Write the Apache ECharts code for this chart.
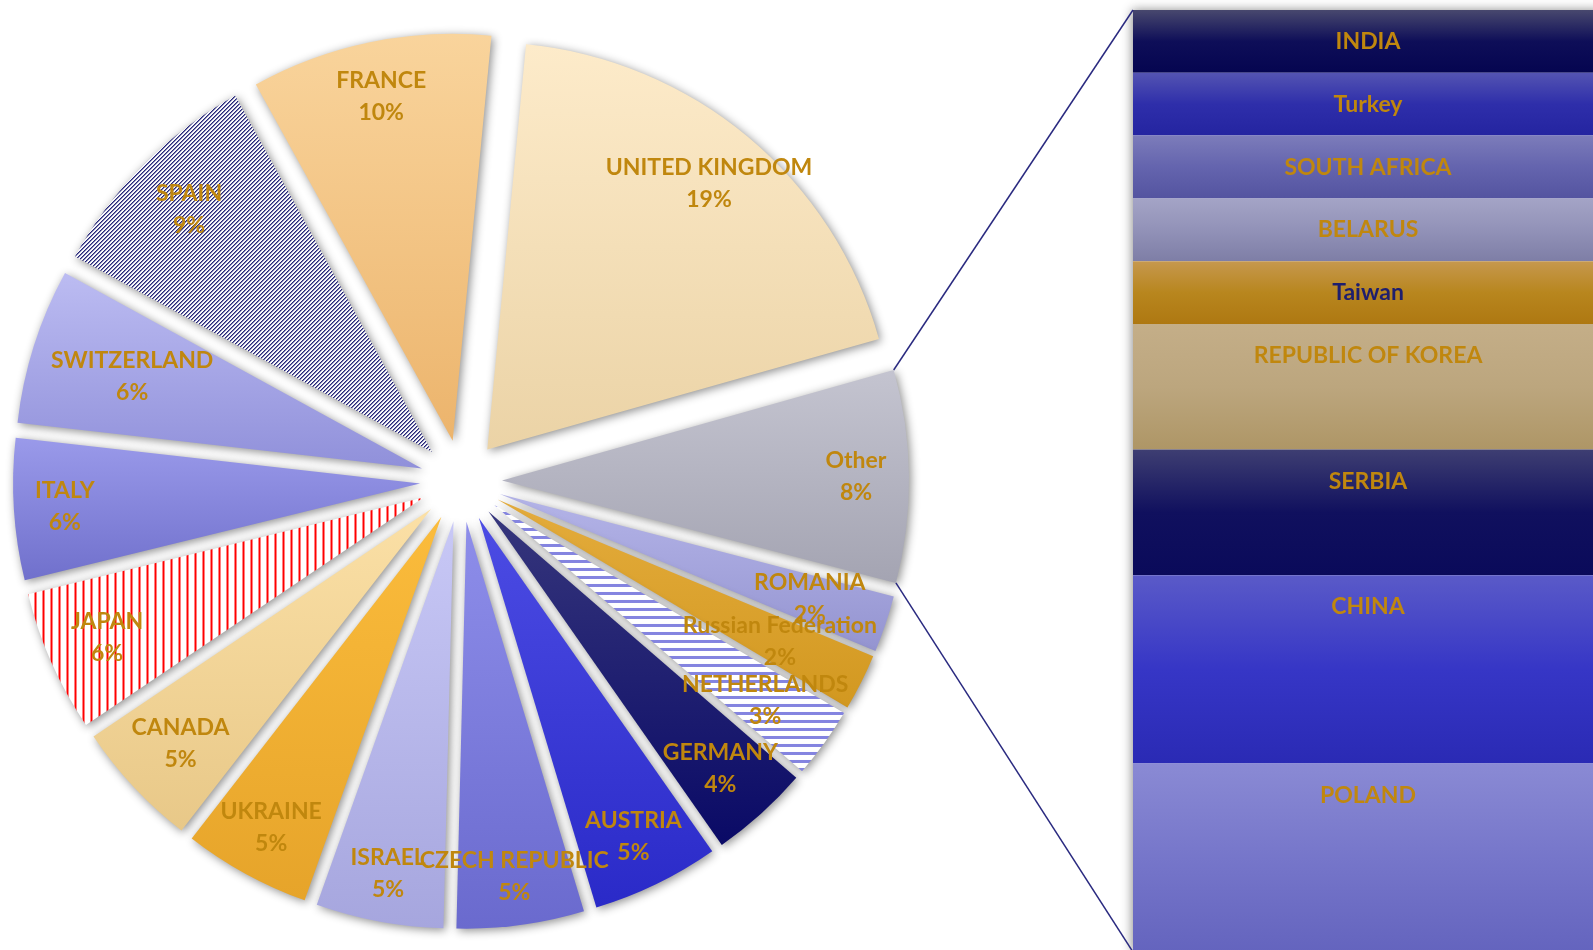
<!DOCTYPE html>
<html>
<head>
<meta charset="utf-8">
<title>Pie of bar</title>
<script src="https://cdn.jsdelivr.net/npm/echarts@6/dist/echarts.min.js"></script>
<style>
  html, body { margin: 0; padding: 0; background: #fff; }
  #chart { width: 1593px; height: 950px; }
</style>
</head>
<body>
<div id="chart"></div>
<script>
// pie slices, clockwise starting with "Other" at 3 o'clock
const pieNames = ['Other', 'ROMANIA', 'Russian Federation', 'NETHERLANDS', 'GERMANY', 'AUSTRIA',
  'CZECH REPUBLIC', 'ISRAEL', 'UKRAINE', 'CANADA', 'JAPAN', 'ITALY', 'SWITZERLAND', 'SPAIN',
  'FRANCE', 'UNITED KINGDOM'];
const pieValues = [15, 4, 4, 5, 7, 9, 9, 9, 9, 9, 10, 10, 11, 16, 17, 34];

// what "Other" is made of, top to bottom
const barNames = ['INDIA', 'Turkey', 'SOUTH AFRICA', 'BELARUS', 'Taiwan', 'REPUBLIC OF KOREA',
  'SERBIA', 'CHINA', 'POLAND'];
const barValues = [1, 1, 1, 1, 1, 2, 2, 3, 3];

// layout
const CX = 461, CY = 481, R = 407, EXPLODE = 41;
const ROT = 0.6; // "Other" sits a little above the horizontal
const BAR_LEFT = 1133, BAR_TOP = 10, BAR_W = 470, BAR_H = 942;
const FONT = 'Lato';
const GOLD = '#C0870E';

// distance of each slice label from the pie centre (Excel "best fit" varies per slice)
const labelRadius = {
  'Other': 392, 'ROMANIA': 365, 'Russian Federation': 354, 'NETHERLANDS': 372, 'GERMANY': 384,
  'AUSTRIA': 392, 'CZECH REPUBLIC': 396, 'ISRAEL': 396, 'UKRAINE': 392, 'CANADA': 381,
  'JAPAN': 384, 'ITALY': 394, 'SWITZERLAND': 342, 'SPAIN': 381, 'FRANCE': 390,
  'UNITED KINGDOM': 384
};

const grad = (...stops) => ({
  type: 'linear', x: 0, y: 0, x2: 0, y2: 1,
  colorStops: stops.map((c, i) => ({ offset: i / (stops.length - 1), color: c }))
});

// small canvas tiles for the hatched slices
const tile = (w, h, draw) => {
  const c = document.createElement('canvas');
  c.width = w; c.height = h;
  const ctx = c.getContext('2d');
  ctx.fillStyle = '#fff';
  ctx.fillRect(0, 0, w, h);
  draw(ctx);
  return { image: c, repeat: 'repeat' };
};
const diagFill = tile(4, 4, ctx => {
  for (let x = 0; x < 4; x++) for (let y = 0; y < 4; y++) {
    const k = (x + y) % 4;
    if (k === 0) { ctx.fillStyle = '#16166E'; ctx.fillRect(x, y, 1, 1); }
    if (k === 1) { ctx.fillStyle = '#7E7EB0'; ctx.fillRect(x, y, 1, 1); }
  }
});
const vlineFill = tile(8, 4, ctx => { ctx.fillStyle = '#FF0000'; ctx.fillRect(0, 0, 2, 4); });
const hlineFill = tile(4, 8, ctx => { ctx.fillStyle = '#8484E0'; ctx.fillRect(0, 0, 4, 3); });

const sliceColors = {
  'Other': grad('#C4C4D0', '#A4A4B2'),
  'ROMANIA': grad('#B4B4E8', '#9494D0'),
  'Russian Federation': grad('#E4AC3C', '#D29820'),
  'NETHERLANDS': hlineFill,
  'GERMANY': grad('#36367C', '#0A0A66'),
  'AUSTRIA': grad('#4C4CE4', '#2A2AC8'),
  'CZECH REPUBLIC': grad('#8E8EEA', '#6A6ACE'),
  'ISRAEL': grad('#C8C8F6', '#A6A6DE'),
  'UKRAINE': grad('#FBBC3C', '#E6A42A'),
  'CANADA': grad('#FBE0A6', '#E8C888'),
  'JAPAN': vlineFill,
  'ITALY': grad('#9A9AEA', '#7070CC'),
  'SWITZERLAND': grad('#BCBCF2', '#9090DA'),
  'SPAIN': diagFill,
  'FRANCE': grad('#F9D49C', '#ECB46C'),
  'UNITED KINGDOM': grad('#FDEBCA', '#EBD3A6')
};

const barColors = {
  'INDIA': grad('#48486E', '#0E0E58', '#050550'),
  'Turkey': grad('#5454B2', '#2E2EAA', '#2424A0'),
  'SOUTH AFRICA': grad('#7C7CBA', '#6464AE', '#5454A0'),
  'BELARUS': grad('#A4A4C6', '#9292B8', '#7E7EA6'),
  'Taiwan': grad('#C6984E', '#B8861E', '#AE7812'),
  'REPUBLIC OF KOREA': grad('#C4AE88', '#BCA67E', '#AE9666'),
  'SERBIA': grad('#3E3E72', '#10105E', '#0A0A5A'),
  'CHINA': grad('#5A5AC8', '#3636C6', '#2A2AB4'),
  'POLAND': grad('#8A8AD4', '#7676CA', '#6464BE')
};

const pieTotal = pieValues.reduce((a, b) => a + b, 0);
const barTotal = barValues.reduce((a, b) => a + b, 0);
const halfOther = pieValues[0] / pieTotal * 360 / 2;
const startAngle = halfOther + ROT;

const pieData = pieNames.map((n, i) => ({
  name: n, value: pieValues[i], selected: true,
  itemStyle: { color: sliceColors[n] }
}));

const chart = echarts.init(document.getElementById('chart'));

const barSeries = barNames.map((n, i) => ({
  type: 'bar',
  name: n,
  stack: 'other',
  barWidth: '100%',
  barGap: '-100%',
  z: 3,
  data: [barValues[i]],
  itemStyle: { color: barColors[n] },
  label: {
    show: true,
    position: 'insideTop',
    distance: 20,
    formatter: n,
    fontFamily: FONT,
    fontWeight: 'bold',
    fontSize: 23,
    lineHeight: 23,
    color: n === 'Taiwan' ? '#1E1E6E' : GOLD
  },
  emphasis: { disabled: true },
  silent: true
}));

// one transparent ring per slice label, so each label sits at its own radius
const labelSeries = pieNames.map((name, k) => {
  const lr = labelRadius[name];
  return {
    type: 'pie',
    center: [CX, CY],
    radius: [lr - 20, lr + 20],
    startAngle: startAngle,
    clockwise: true,
    avoidLabelOverlap: false,
    labelLayout: { hideOverlap: false },
    z: 5,
    data: pieNames.map((n, i) => ({ name: n, value: pieValues[i], label: { show: i === k } })),
    itemStyle: { color: 'rgba(0,0,0,0)' },
    label: {
      position: 'inside',
      overflow: 'none',
      formatter: p => p.name + '\n' + Math.round(p.percent) + '%',
      fontFamily: FONT,
      fontWeight: 'bold',
      fontSize: 23,
      lineHeight: 32,
      color: GOLD
    },
    labelLine: { show: false },
    emphasis: { disabled: true },
    silent: true
  };
});

chart.setOption({
  animation: false,
  backgroundColor: '#fff',
  grid: { left: BAR_LEFT, top: BAR_TOP, width: BAR_W, height: BAR_H, outerBoundsMode: 'none' },
  xAxis: { type: 'category', data: ['Other'], show: false },
  yAxis: { type: 'value', min: 0, max: barTotal, inverse: true, show: false },
  series: [
    {
      // shadow behind the whole bar
      type: 'bar',
      name: 'bg',
      barWidth: '100%',
      barGap: '-100%',
      z: 2,
      data: [barTotal],
      itemStyle: { color: '#fff', shadowBlur: 10, shadowColor: 'rgba(0,0,0,0.45)', shadowOffsetX: -1 },
      silent: true
    },
    ...barSeries,
    {
      type: 'pie',
      center: [CX, CY],
      radius: R,
      startAngle: startAngle,
      clockwise: true,
      selectedMode: 'multiple',
      selectedOffset: EXPLODE,
      avoidLabelOverlap: false,
      data: pieData,
      itemStyle: {
        shadowBlur: 10,
        shadowColor: 'rgba(0,0,0,0.45)',
        shadowOffsetX: 2,
        shadowOffsetY: 2
      },
      label: { show: false },
      labelLine: { show: false },
      emphasis: { disabled: true },
      select: { itemStyle: { borderWidth: 0 } },
      silent: true
    },
    ...labelSeries
  ]
});

// connector lines from the "Other" slice corners to the bar corners
const rad = d => d * Math.PI / 180;
const ex = CX + EXPLODE * Math.cos(rad(ROT));
const ey = CY - EXPLODE * Math.sin(rad(ROT));
const aTop = rad(ROT + halfOther), aBot = rad(ROT - halfOther);
const yTop = chart.convertToPixel({ yAxisIndex: 0 }, 0);
const yBot = chart.convertToPixel({ yAxisIndex: 0 }, barTotal);
chart.setOption({
  graphic: [
    { type: 'line', z: 10,
      shape: { x1: ex + R * Math.cos(aTop), y1: ey - R * Math.sin(aTop), x2: BAR_LEFT, y2: yTop },
      style: { stroke: '#2A2A80', lineWidth: 1.5 } },
    { type: 'line', z: 10,
      shape: { x1: ex + R * Math.cos(aBot), y1: ey - R * Math.sin(aBot), x2: BAR_LEFT, y2: yBot },
      style: { stroke: '#2A2A80', lineWidth: 1.5 } }
  ]
});

window.addEventListener('resize', () => chart.resize());
</script>
</body>
</html>
